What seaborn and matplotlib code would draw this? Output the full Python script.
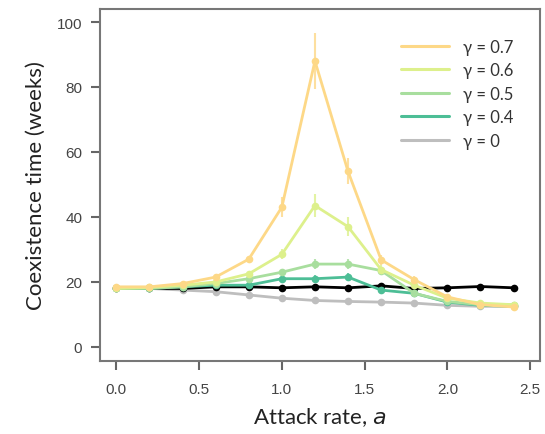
import matplotlib
matplotlib.use("Agg")
import matplotlib.pyplot as plt
from matplotlib.lines import Line2D
import seaborn as sns
import pandas as pd
import numpy as np

attack = [0.0, 0.2, 0.4, 0.6, 0.8, 1.0, 1.2, 1.4, 1.6, 1.8, 2.0, 2.2, 2.4]
series_names = ["γ = 0", "black", "γ = 0.4", "γ = 0.5", "γ = 0.6", "γ = 0.7"]
g0   = [18.0, 18.0, 17.5, 17.0, 16.0, 15.0, 14.3, 14.0, 13.8, 13.5, 12.8, 12.5, 12.5]
blk  = [18.0, 18.0, 18.0, 18.5, 18.5, 18.2, 18.5, 18.2, 18.8, 18.0, 18.2, 18.6, 18.2]
g04  = [18.0, 18.0, 18.5, 19.0, 19.0, 21.0, 21.0, 21.5, 17.5, 16.5, 13.8, 12.8, 12.5]
g05  = [18.0, 18.0, 18.5, 19.5, 21.0, 23.0, 25.5, 25.5, 23.5, 16.5, 14.0, 13.0, 13.0]
g06  = [18.0, 18.3, 19.0, 20.0, 22.5, 28.5, 43.5, 37.0, 23.8, 19.0, 15.0, 13.5, 13.0]
g07  = [18.5, 18.5, 19.5, 21.5, 27.0, 43.0, 88.0, 54.0, 26.8, 20.7, 15.4, 13.0, 12.3]
values = [g0, blk, g04, g05, g06, g07]
err0  = [0.4] * 13
errb  = [0.4] * 13
err04 = [0.6, 0.5, 0.5, 0.6, 0.7, 1.0, 1.0, 1.2, 0.8, 0.7, 0.6, 0.5, 0.5]
err05 = [0.5, 0.5, 0.5, 0.6, 0.8, 1.0, 1.5, 1.5, 1.2, 0.8, 0.6, 0.5, 0.5]
err06 = [0.5, 0.5, 0.6, 0.7, 1.0, 1.5, 3.5, 3.0, 1.5, 1.0, 0.6, 0.5, 0.5]
err07 = [0.5, 0.5, 0.6, 0.8, 1.0, 3.0, 8.5, 4.0, 1.5, 1.0, 0.6, 0.5, 0.5]
errs = [err0, errb, err04, err05, err06, err07]
colors = ["#BEBEBE", "#000000", "#4DBE96", "#A8DE9E", "#DDF08C", "#FDD887"]
legend_order = ["γ = 0.7", "γ = 0.6", "γ = 0.5", "γ = 0.4", "γ = 0"]

rows = []
for name, vals in zip(series_names, values):
    for a, v in zip(attack, vals):
        rows.append({"a": a, "t": v, "series": name})
df = pd.DataFrame(rows)
palette = dict(zip(series_names, colors))

sns.set_style("ticks")
plt.rcParams["font.family"] = ["Liberation Sans", "DejaVu Sans"]
fig = plt.figure(figsize=(5.45, 4.35), dpi=100)
ax = fig.add_axes([0.183, 0.168, 0.808, 0.809])

for name, vals, e in zip(series_names, values, errs):
    ax.errorbar(attack, vals, yerr=e, fmt="none", ecolor=palette[name],
                elinewidth=1.5, capsize=0, alpha=0.8, zorder=2)
sns.lineplot(data=df, x="a", y="t", hue="series", hue_order=series_names,
             palette=palette, marker="o", markersize=5.5, markeredgewidth=0,
             linewidth=2, legend=False, ax=ax, zorder=3, estimator=None)

ax.set_xlim(-0.1, 2.56)
ax.set_ylim(-4.3, 104)
ax.set_xticks([0.0, 0.5, 1.0, 1.5, 2.0, 2.5])
ax.set_xticklabels(["0.0", "0.5", "1.0", "1.5", "2.0", "2.5"])
ax.set_yticks([0, 20, 40, 60, 80, 100])
ax.tick_params(axis="both", colors="#666666", labelcolor="#444444",
               labelsize=11, length=6.5, width=1.5, direction="out")
ax.tick_params(axis="x", pad=9)
ax.tick_params(axis="y", pad=6)
for s in ax.spines.values():
    s.set_color("#777777")
    s.set_linewidth(1.5)

ax.set_xlabel("Attack rate, $\\mathit{a}$", fontsize=16, family=["Lato", "DejaVu Sans"],
              color="#222222", labelpad=6)
ax.set_ylabel("Coexistence time (weeks)", fontsize=16, family=["Lato", "DejaVu Sans"],
              color="#222222", labelpad=8)

handles = [Line2D([0], [0], color=palette[n], lw=2.2) for n in legend_order]
leg = ax.legend(handles, legend_order, loc="upper left", frameon=False,
                bbox_to_anchor=(0.684, 0.916), borderaxespad=0, borderpad=0,
                handlelength=2.9, handletextpad=0.8, labelspacing=0.45,
                prop={"family": ["Lato", "DejaVu Sans"], "size": 12})
for t in leg.get_texts():
    t.set_color("#333333")

fig.savefig("out.png", dpi=100)
